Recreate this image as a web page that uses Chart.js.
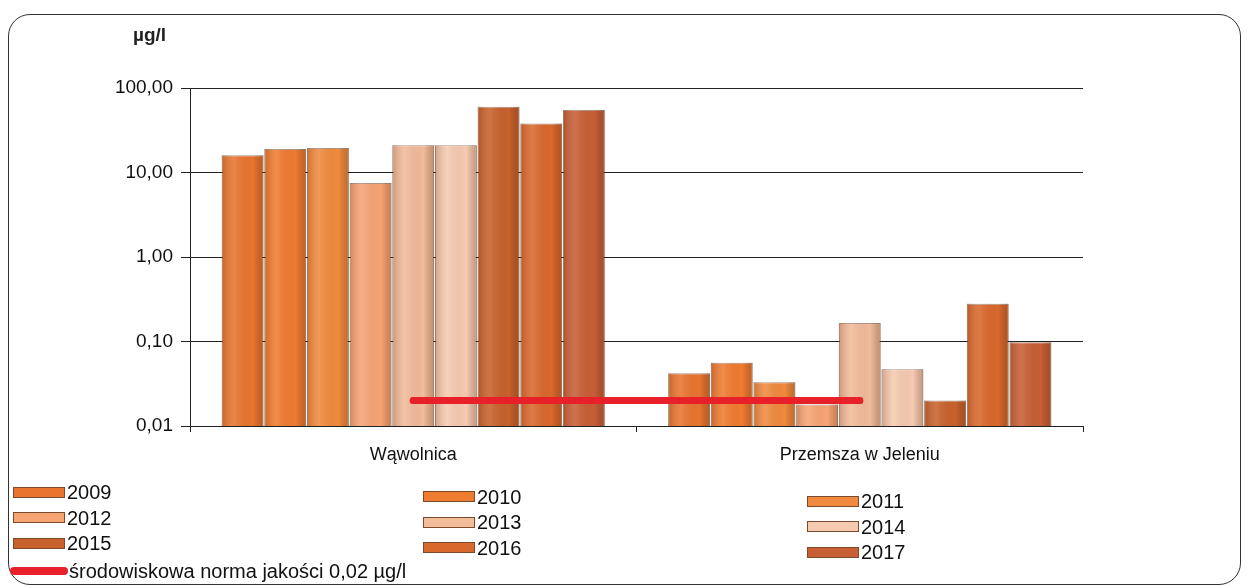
<!DOCTYPE html>
<html lang="pl">
<head>
  <meta charset="UTF-8">
  <title>Stężenia µg/l</title>
  <script src="https://cdn.jsdelivr.net/npm/chart.js"></script>
  <style>
    body {
      margin: 0;
      font-family: "Liberation Sans", Arial, sans-serif;
      background: #fff;
    }
    .frame {
      position: absolute;
      left: 8px;
      top: 14px;
      width: 1231px;
      height: 569px;
      border: 1.5px solid #333;
      border-radius: 22px;
    }
    .wrap {
      position: absolute;
      left: 0;
      top: 0;
      width: 1248px;
      height: 588px;
    }
    .unit {
      position: absolute;
      left: 133px;
      top: 24px;
      font-weight: bold;
      font-size: 19px;
      color: #222;
    }
    .item {
      position: absolute;
      font-size: 20px;
      line-height: 20px;
      color: #111;
      display: flex;
      align-items: center;
      white-space: nowrap;
    }
    .swatch {
      display: inline-block;
      width: 50px;
      height: 9px;
      margin-right: 2px;
      border: 1px solid #7a4a2a;
    }
    .normline {
      display: inline-block;
      width: 58px;
      height: 8px;
      border-radius: 4px;
      background: #e8202a;
      margin-right: 1px;
    }
  </style>
</head>
<body>
  <div class="frame"></div>
  <div class="wrap"><canvas id="chart"></canvas></div>
  <div class="unit">µg/l</div>
  <div id="legend"></div>

  <script>
    // stations and years
    const stations = ['Wąwolnica', 'Przemsza w Jeleniu'];
    const years = ['2009', '2010', '2011', '2012', '2013', '2014', '2015', '2016', '2017'];

    // values per year: [Wąwolnica, Przemsza w Jeleniu], µg/l
    const v2009 = [16, 0.042];
    const v2010 = [19, 0.056];
    const v2011 = [19.5, 0.033];
    const v2012 = [7.5, 0.018];
    const v2013 = [21, 0.165];
    const v2014 = [21, 0.047];
    const v2015 = [60, 0.020];
    const v2016 = [38, 0.28];
    const v2017 = [55, 0.098];
    const values = [v2009, v2010, v2011, v2012, v2013, v2014, v2015, v2016, v2017];

    // environmental quality standard
    const normLabel = 'środowiskowa norma jakości 0,02 µg/l';
    const normValue = [0.02, 0.02];

    const yTicks = [0.01, 0.1, 1, 10, 100];

    const colors = ['#e8742f', '#ef7b30', '#f08a3e', '#f7a474', '#f2bb9a',
                    '#f5cab0', '#c8612c', '#d9682c', '#c75e35'];

    const datasets = years.map((y, i) => ({
      type: 'bar',
      label: y,
      data: values[i],
      backgroundColor: colors[i],
      borderColor: 'rgba(110,60,30,0.55)',
      borderWidth: 1,
      barPercentage: 0.98,
      categoryPercentage: 0.86,
      order: 1
    }));
    datasets.push({
      type: 'line',
      label: normLabel,
      data: normValue,
      borderColor: '#e8202a',
      borderWidth: 7,
      borderCapStyle: 'round',
      pointRadius: 0,
      order: 0
    });

    // soft cylinder shading on top of bars
    const shade = {
      id: 'shade',
      afterDatasetsDraw(chart) {
        const ctx = chart.ctx;
        chart.data.datasets.forEach((ds, di) => {
          if (ds.type !== 'bar') return;
          chart.getDatasetMeta(di).data.forEach(bar => {
            const l = bar.x - bar.width / 2, r = bar.x + bar.width / 2;
            const g = ctx.createLinearGradient(l, 0, r, 0);
            g.addColorStop(0, 'rgba(90,40,10,0.25)');
            g.addColorStop(0.3, 'rgba(255,255,255,0.12)');
            g.addColorStop(0.75, 'rgba(0,0,0,0)');
            g.addColorStop(1, 'rgba(90,40,10,0.3)');
            ctx.save();
            ctx.fillStyle = g;
            ctx.fillRect(l, bar.y, bar.width, bar.base - bar.y);
            ctx.restore();
          });
        });
        // keep the norm line above the shading
        const meta = chart.getDatasetMeta(chart.data.datasets.length - 1);
        meta.controller.draw();
      }
    };

    new Chart(document.getElementById('chart'), {
      data: { labels: stations, datasets: datasets },
      options: {
        responsive: true,
        maintainAspectRatio: false,
        animation: false,
        layout: { padding: { left: 0, right: 165, top: 88, bottom: 122 } },
        plugins: {
          legend: { display: false },
          tooltip: { enabled: false }
        },
        scales: {
          x: {
            grid: { display: true, drawOnChartArea: false, color: '#222', tickLength: 6 },
            border: { color: '#222' },
            ticks: { color: '#111', padding: 12, font: { family: 'Liberation Sans', size: 18 } },
            afterFit: axis => { axis.height = 40; }
          },
          y: {
            type: 'logarithmic',
            min: 0.01,
            max: 100,
            grid: { color: '#222', tickLength: 9 },
            border: { color: '#222' },
            afterBuildTicks: axis => { axis.ticks = yTicks.map(v => ({ value: v })); },
            ticks: {
              color: '#111',
              padding: 8,
              font: { family: 'Liberation Sans', size: 19 },
              callback: v => v.toFixed(2).replace('.', ',')
            },
            afterFit: axis => { axis.width = 190; }
          }
        }
      },
      plugins: [shade]
    });

    // legend: three columns, filled row by row
    const legend = document.getElementById('legend');
    const colLeft = [13, 423, 807];
    years.forEach((y, i) => {
      const col = i % 3, row = Math.floor(i / 3);
      const d = document.createElement('div');
      d.className = 'item';
      d.style.left = colLeft[col] + 'px';
      d.style.top = (482 + row * 25.5 + col * 4.5) + 'px';
      d.innerHTML = `<span class="swatch" style="background:${colors[i]}"></span>${y}`;
      legend.appendChild(d);
    });
    const n = document.createElement('div');
    n.className = 'item';
    n.style.left = '10px';
    n.style.top = '561px';
    n.innerHTML = `<span class="normline"></span>${normLabel}`;
    legend.appendChild(n);
  </script>
</body>
</html>
